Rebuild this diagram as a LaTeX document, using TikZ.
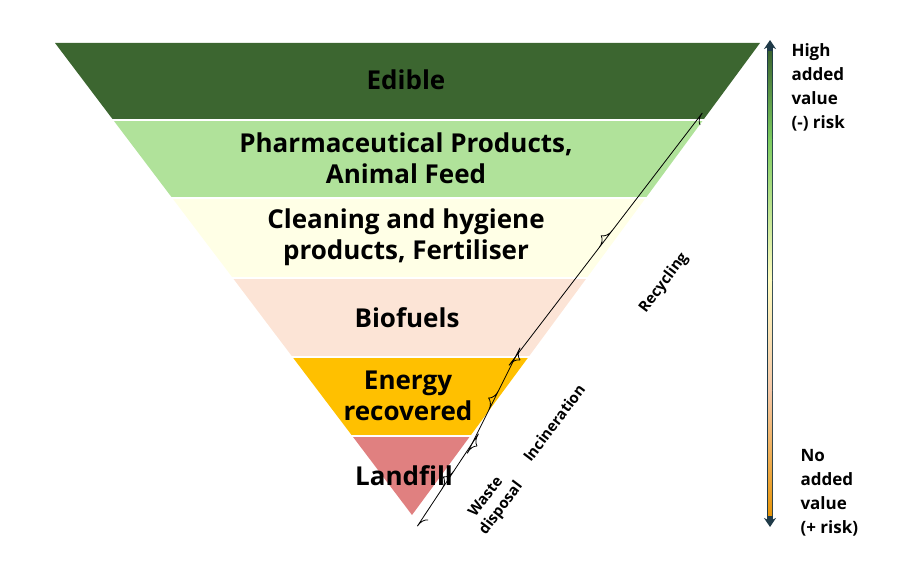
\documentclass[tikz,border=0pt]{standalone}
\usepackage{fontspec}
\setmainfont{Open Sans}
\usetikzlibrary{decorations.pathreplacing,arrows.meta}
\definecolor{edible}{HTML}{3C6630}
\definecolor{pharma}{HTML}{B0E29A}
\definecolor{clean}{HTML}{FFFFE6}
\definecolor{biofuel}{HTML}{FCE4D6}
\definecolor{energy}{HTML}{FFC000}
\definecolor{landfill}{HTML}{E08080}
\definecolor{arrowline}{HTML}{1F3A48}
\definecolor{midgreen}{HTML}{7CCB60}
\definecolor{paleyellow}{HTML}{FFFCC0}
\definecolor{peach}{HTML}{F5C8A8}
\definecolor{deeporange}{HTML}{E8960A}
\tikzset{
  layer/.style={font=\fontsize{26}{31}\selectfont\bfseries, align=center},
  side/.style={font=\fontsize{17}{24}\selectfont\bfseries, align=left, anchor=north west},
  brace/.style={draw, decorate, decoration={brace, amplitude=-11pt}, thick},
  bracelabel/.style={font=\fontsize{15}{19}\selectfont\bfseries, rotate=53, align=center}
}
\begin{document}
\begin{tikzpicture}[x=1pt,y=-1pt]
\useasboundingbox (0,0) rectangle (907,564);

\fill[edible] (55,43) -- (760,43) -- (703.2,120) -- (113.2,120) -- cycle;
\fill[pharma] (113.2,120) -- (703.2,120) -- (645.7,198) -- (172.2,198) -- cycle;
\fill[clean] (172.2,198) -- (645.7,198) -- (586.7,278) -- (232.8,278) -- cycle;
\fill[biofuel] (232.8,278) -- (586.7,278) -- (528.5,357) -- (292.5,357) -- cycle;
\fill[energy] (292.5,357) -- (528.5,357) -- (470.2,436) -- (352.3,436) -- cycle;
\fill[landfill] (352.3,436) -- (470.2,436) -- (412,515) -- cycle;
\foreach \y in {120,198,278,357,436}
  \draw[white, line width=2pt] (50,\y) -- (765,\y);

\node[layer] (edible) at (406,80) {Edible};
\node[layer] (pharma) at (406,158) {Pharmaceutical Products,\\Animal Feed};
\node[layer] (clean) at (406,237) {Cleaning and hygiene\\products, Fertiliser};
\node[layer] (biofuel) at (407,318) {Biofuels};
\node[layer] (energy) at (408,396) {Energy\\recovered};
\node[layer] (landfill) at (404,476) {Landfill};

\coordinate (r1) at (700,125);
\coordinate (r2) at (520,360);
\coordinate (r3) at (477,446);
\coordinate (r4) at (428,520);
\draw[brace] (r1) -- (r2);
\draw[brace] (r2) -- (r3);
\draw[brace] (r3) -- (r4);
\node[bracelabel] (recycling) at (664,283) {Recycling};
\node[bracelabel] (incineration) at (554,423) {Incineration};
\node[bracelabel] (waste) at (494,503) {Waste\\disposal};

\coordinate (atop) at (770,40);
\coordinate (abot) at (770,527);
\draw[arrowline, line width=6pt, {Stealth[length=9pt,width=12pt]}-{Stealth[length=9pt,width=12pt]}] (atop) -- (abot);
\shade[top color=edible, bottom color=midgreen] (768,52) rectangle (772,140);
\shade[top color=midgreen, bottom color=paleyellow] (768,140) rectangle (772,280);
\shade[top color=paleyellow, bottom color=peach] (768,280) rectangle (772,390);
\shade[top color=peach, bottom color=deeporange] (768,390) rectangle (772,515);

\node[side] (high) at (788,40) {High\\added\\value\\(-) risk};
\node[side] (none) at (797,446) {No\\added\\value\\(+ risk)};
\end{tikzpicture}
\end{document}
